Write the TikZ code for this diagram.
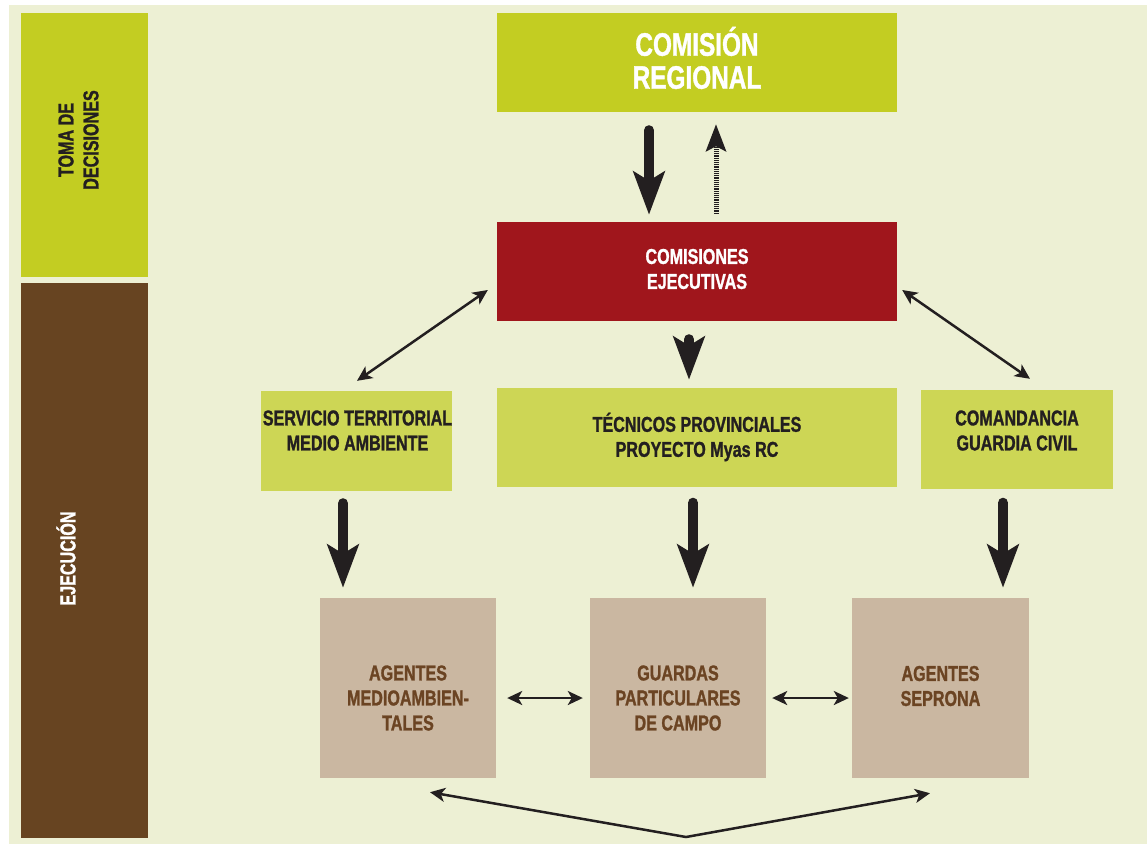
\documentclass[tikz,border=0pt]{standalone}
\usepackage{fontspec}
\setmainfont{Liberation Sans}[FakeStretch=0.75, BoldFeatures={FakeBold=1.2}]
\usetikzlibrary{arrows.meta,calc}
\definecolor{cream}{HTML}{EDF0D4}
\definecolor{topgreen}{HTML}{C3CD22}
\definecolor{litegreen}{HTML}{CDD655}
\definecolor{darkred}{HTML}{A0161C}
\definecolor{brownbar}{HTML}{674421}
\definecolor{tan}{HTML}{CAB7A1}
\definecolor{browntext}{HTML}{6B4423}
\definecolor{ink}{HTML}{231F20}
\tikzset{
  box/.style={rectangle, inner sep=0pt, draw=none},
  txt/.style={inner sep=0pt, align=center, font=\fontsize{21.5}{25}\selectfont\bfseries},
  bigtxt/.style={inner sep=0pt, align=center, font=\fontsize{32.5}{33}\selectfont\bfseries, text=white},
  bigarrow/.style={draw=ink, line width=10pt, line cap=round, -{Stealth[length=43pt, width=31pt, inset=9pt]}},
  dotarrow/.style={draw=ink, line width=5pt, dash pattern=on 1.2pt off 1pt, -{Stealth[length=27pt, width=20pt, inset=5pt]}},
  thinarrow/.style={draw=ink, line width=2.5pt, {Stealth[length=15pt, width=14pt, inset=4pt]}-{Stealth[length=15pt, width=14pt, inset=4pt]}},
}
\begin{document}
\begin{tikzpicture}[x=1pt, y=-1pt]
\useasboundingbox (0,0) rectangle (1147,844);
\fill[cream] (9,5) rectangle (1147,844);
% left column
\node[box, fill=topgreen, minimum width=127pt, minimum height=264pt] (td) at (84.5,145) {};
\node[txt, text=ink, rotate=90] (tdt) at (78.5,140) {TOMA DE\\DECISIONES};
\node[box, fill=brownbar, minimum width=127pt, minimum height=555pt] (ej) at (84.5,560.5) {};
\node[txt, text=white, rotate=90] (ejt) at (66,558.5) {EJECUCIÓN};
% boxes
\node[box, fill=topgreen, minimum width=400pt, minimum height=99pt] (cr) at (697,62.5) {};
\node[bigtxt] (crt) at (697,58) {COMISIÓN\\REGIONAL};
\node[box, fill=darkred, minimum width=400pt, minimum height=99pt] (ce) at (697,271.5) {};
\node[txt, text=white] (cet) at (697,269) {COMISIONES\\EJECUTIVAS};
\node[box, fill=litegreen, minimum width=191pt, minimum height=100pt] (st) at (356.5,441) {};
\node[txt, text=ink] (stt) at (357.5,430.5) {SERVICIO TERRITORIAL\\MEDIO AMBIENTE};
\node[box, fill=litegreen, minimum width=400pt, minimum height=99pt] (tp) at (697,437.5) {};
\node[txt, text=ink] (tpt) at (697,437) {TÉCNICOS PROVINCIALES\\PROYECTO Myas RC};
\node[box, fill=litegreen, minimum width=192pt, minimum height=99pt] (cg) at (1017,439.5) {};
\node[txt, text=ink] (cgt) at (1017,430.5) {COMANDANCIA\\GUARDIA CIVIL};
\node[box, fill=tan, minimum width=176pt, minimum height=180pt] (a1) at (408,688) {};
\node[txt, text=browntext] (a1t) at (408,698) {AGENTES\\MEDIOAMBIEN-\\TALES};
\node[box, fill=tan, minimum width=176pt, minimum height=180pt] (a2) at (678,688) {};
\node[txt, text=browntext] (a2t) at (678,698) {GUARDAS\\PARTICULARES\\DE CAMPO};
\node[box, fill=tan, minimum width=177pt, minimum height=180pt] (a3) at (940.5,688) {};
\node[txt, text=browntext] (a3t) at (940.5,686) {AGENTES\\SEPRONA};
% arrows
\draw[bigarrow] ($(cr.south)+(-48,18)$) -- ($(ce.north)+(-48,-7)$);
\draw[dotarrow] ($(ce.north)+(19,-8)$) -- ($(cr.south)+(19,12)$);
\draw[bigarrow] ($(ce.south)+(-8,18)$) -- ($(tp.north)+(-8,-8)$);
\draw[thinarrow] ($(ce.west)+(-9,18.5)$) -- ($(st.north)+(0.5,-10)$);
\draw[thinarrow] ($(ce.east)+(5,18.5)$) -- ($(cg.north)+(13,-11)$);
\draw[bigarrow] ($(st.south)+(-13.5,12)$) -- ($(a1.north)+(-65,-10)$);
\draw[bigarrow] ($(tp.south)+(-4,15.5)$) -- ($(a2.north)+(15,-10)$);
\draw[bigarrow] ($(cg.south)+(-14,13.5)$) -- ($(a3.north)+(62.5,-10)$);
\draw[thinarrow] ($(a1.east)+(11,10)$) -- ($(a2.west)+(-7,10)$);
\draw[thinarrow] ($(a2.east)+(6,10)$) -- ($(a3.west)+(-3,10)$);
\coordinate (v) at (686,837);
\draw[thinarrow, line join=miter] ($(a1.south)+(22,14)$) -- (v) -- ($(a3.south)+(-10.5,15)$);
\end{tikzpicture}
\end{document}
